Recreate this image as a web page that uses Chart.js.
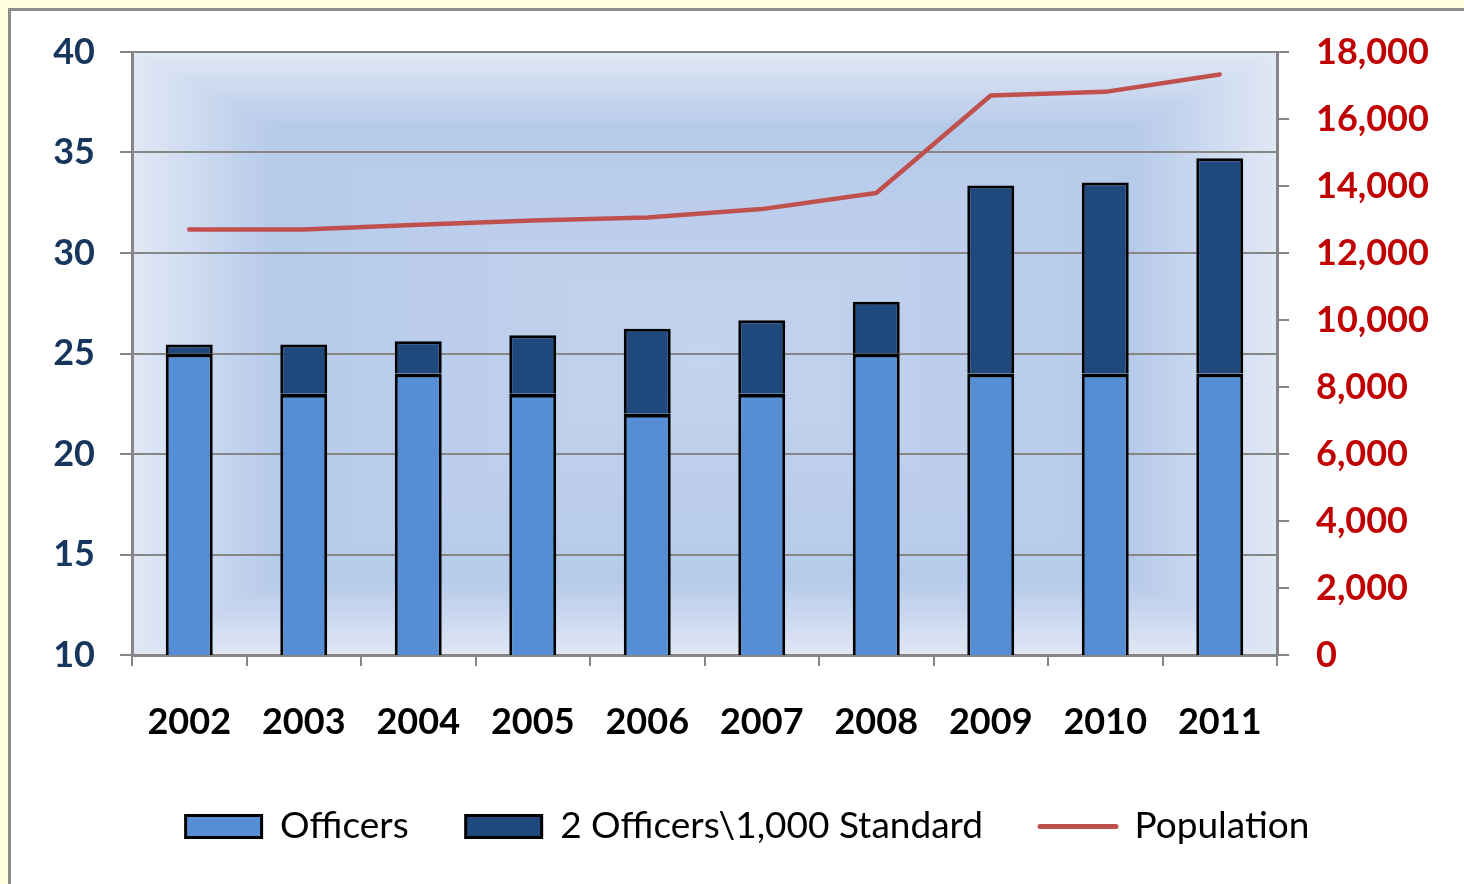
<!DOCTYPE html>
<html>
<head>
<meta charset="utf-8">
<script src="https://cdn.jsdelivr.net/npm/chart.js@4.4.1/dist/chart.umd.min.js"></script>
<style>
    html, body { margin: 0; padding: 0; }
    body { width: 1464px; height: 884px; background: #FFFFE0; position: relative; overflow: hidden; }
    #panel { position: absolute; left: 8px; top: 8px; width: 1480px; height: 900px; background: #fff; border: 3px solid #8C8C8C; }
    #chart { position: absolute; left: 0; top: 0; }
</style>
</head>
<body>
<div id="panel"></div>
<canvas id="chart" width="1464" height="884"></canvas>
<script>
// ===== data =====
const years = ['2002', '2003', '2004', '2005', '2006', '2007', '2008', '2009', '2010', '2011'];
const officers = [25, 23, 24, 23, 22, 23, 25, 24, 24, 24];
// dark part on top of each bar (gap up to 2 officers per 1,000 residents)
const standardGap = [0.45, 2.45, 1.61, 2.91, 4.23, 3.65, 2.57, 9.36, 9.51, 10.72];
const population = [12700, 12700, 12840, 12970, 13060, 13310, 13790, 16700, 16810, 17330];
const leftTicks = { min: 10, max: 40, step: 5 };
const rightTicks = { min: 0, max: 18000, step: 2000 };

const FONT = 'Lato';
const GRID = '#868686';

// rectangular "from centre" fill behind the plot, like the Excel chart
const plotFill = {
    id: 'plotFill',
    beforeDraw(chart) {
        const { left, top, width, height } = chart.chartArea;
        const w = Math.round(width), h = Math.round(height);
        const off = document.createElement('canvas');
        off.width = w; off.height = h;
        const octx = off.getContext('2d');
        const img = octx.createImageData(w, h);
        const edge = [225, 232, 245], band = [182, 202, 234], mid = [196, 211, 238];
        const mix = (a, b, f) => a.map((v, i) => v + (b[i] - v) * f);
        for (let y = 0; y < h; y++) {
            for (let x = 0; x < w; x++) {
                const t = Math.max(Math.abs(x - w / 2) / (w / 2), Math.abs(y - h / 2) / (h / 2));
                const c = t > 0.75 ? mix(band, edge, (t - 0.75) / 0.25) : mix(mid, band, t / 0.75);
                const k = (y * w + x) * 4;
                img.data[k] = c[0]; img.data[k + 1] = c[1]; img.data[k + 2] = c[2]; img.data[k + 3] = 255;
            }
        }
        octx.putImageData(img, 0, 0);
        chart.ctx.drawImage(off, left, top);
    }
};

new Chart(document.getElementById('chart'), {
    type: 'bar',
    data: {
        labels: years,
        datasets: [
            { label: 'Officers', data: officers, backgroundColor: '#558ED5', borderColor: '#000',
              borderWidth: { top: 4, left: 3, right: 3, bottom: 3 }, borderSkipped: false, inflateAmount: 0,
              yAxisID: 'y', order: 2, barPercentage: 0.41, categoryPercentage: 1 },
            { label: '2 Officers\\1,000 Standard', data: standardGap, backgroundColor: '#1F497D', borderColor: '#000',
              borderWidth: 3, borderSkipped: 'bottom', inflateAmount: 0,
              yAxisID: 'y', order: 3, barPercentage: 0.41, categoryPercentage: 1 },
            { type: 'line', label: 'Population', data: population, borderColor: '#C0504D', backgroundColor: '#C0504D', borderWidth: 4.5, pointRadius: 0, tension: 0, borderCapStyle: 'round', borderJoinStyle: 'round', yAxisID: 'y1', order: 1 }
        ]
    },
    options: {
        responsive: false,
        animation: false,
        devicePixelRatio: 1,
        layout: { padding: { top: 52, left: 31, right: 0, bottom: 29 } },
        plugins: {
            tooltip: { enabled: false },
            legend: {
                position: 'bottom',
                labels: {
                    usePointStyle: true,
                    pointStyleWidth: 76,
                    boxHeight: 22,
                    padding: 57,
                    color: '#000',
                    font: { family: FONT, size: 37 },
                    generateLabels(chart) {
                        const items = Chart.defaults.plugins.legend.labels.generateLabels(chart);
                        items.sort((a, b) => a.datasetIndex - b.datasetIndex);
                        items.forEach(it => {
                            const ds = chart.data.datasets[it.datasetIndex];
                            if (ds.type === 'line') {
                                it.pointStyle = 'line'; it.strokeStyle = ds.borderColor; it.lineWidth = 5; it.lineCap = 'round';
                            } else {
                                it.pointStyle = 'rect'; it.fillStyle = ds.backgroundColor; it.strokeStyle = '#000'; it.lineWidth = 3;
                            }
                        });
                        return items;
                    }
                }
            }
        },
        scales: {
            x: {
                stacked: true,
                afterFit(scale) { scale.height = 96; },
                grid: { offset: true, drawOnChartArea: false, color: GRID, lineWidth: 2, tickLength: 11 },
                border: { color: GRID, width: 3 },
                ticks: { color: '#000', padding: 35, font: { family: FONT, size: 36, weight: 'bold' } }
            },
            y: {
                position: 'left',
                stacked: true,
                min: leftTicks.min, max: leftTicks.max,
                afterFit(scale) { scale.width = 101; },
                grid: { color: GRID, lineWidth: 2, tickLength: 12 },
                border: { color: GRID, width: 3 },
                ticks: { stepSize: leftTicks.step, color: '#17365D', padding: 25, font: { family: FONT, size: 36, weight: 'bold' } }
            },
            y1: {
                position: 'right',
                stacked: false,
                min: rightTicks.min, max: rightTicks.max,
                afterFit(scale) { scale.width = 187; },
                grid: { drawOnChartArea: false, color: GRID, lineWidth: 2, tickLength: 12 },
                border: { color: GRID, width: 3 },
                ticks: { stepSize: rightTicks.step, color: '#C00000', padding: 27, font: { family: FONT, size: 36, weight: 'bold' },
                    callback: v => v.toLocaleString('en-US') }
            }
        }
    },
    plugins: [plotFill]
});
</script>
</body>
</html>
